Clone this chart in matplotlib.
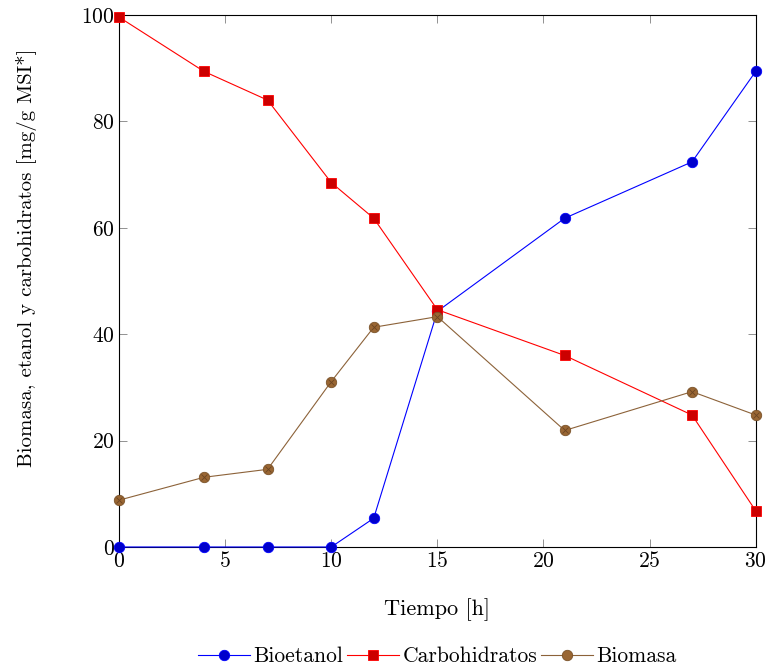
import numpy as np
import matplotlib
matplotlib.use("Agg")
from matplotlib import pyplot as plt

plt.rcParams['font.family'] = ['cmr10', 'DejaVu Serif']
plt.rcParams['axes.formatter.use_mathtext'] = True
plt.rcParams['mathtext.fontset'] = 'cm'

# datos
tiempo = [0, 4, 7, 10, 12, 15, 21, 27, 30]
bioetanol = [0, 0, 0, 0, 5.4, 44.3, 61.8, 72.4, 89.4]
carbohidratos = [99.6, 89.4, 84.0, 68.5, 61.8, 44.6, 36.0, 24.8, 6.8]
biomasa = [8.8, 13.1, 14.6, 31.1, 41.3, 43.3, 21.9, 29.2, 24.8]

fs = 15.5

fig = plt.figure(figsize=(7.68, 6.70), dpi=100)
ax = fig.add_axes([0.155, 0.1836, 0.829, 0.794])

ax.plot(tiempo, bioetanol, color='#0000ff', lw=0.8, marker='o', ms=7.5,
        mfc='#0000cc', mec='#0000ff', mew=0.6, clip_on=False, zorder=3,
        label='Bioetanol')
ax.plot(tiempo, carbohidratos, color='#ff0000', lw=0.8, marker='s', ms=7.5,
        mfc='#cc0000', mec='#ff0000', mew=0.6, clip_on=False, zorder=3,
        label='Carbohidratos')
ax.plot(tiempo, biomasa, color='#8c6239', lw=0.8, marker='o', ms=7.5,
        mfc='#996633', mec='#7a5229', mew=0.6, clip_on=False, zorder=3,
        label='Biomasa')
# la cruz de los marcadores de biomasa
ax.plot(tiempo, biomasa, ls='none', marker='x', ms=4.5, mec='#6b4523',
        mew=0.6, clip_on=False, zorder=4)

ax.set_xlim(0, 30)
ax.set_ylim(0, 100)
ax.set_xticks([0, 5, 10, 15, 20, 25, 30])
ax.set_yticks([0, 20, 40, 60, 80, 100])
ax.tick_params(direction='in', length=6, width=0.6, color='#808080',
               top=True, right=True, labelsize=fs, pad=3)
for s in ax.spines.values():
    s.set_linewidth(0.8)

ax.set_xlabel('Tiempo [h]', fontsize=16)
ax.set_ylabel('Biomasa, etanol y carbohidratos [mg/g MSI*]', fontsize=15)
ax.xaxis.set_label_coords(0.5, -0.096)
ax.yaxis.set_label_coords(-0.129, 0.543)

leg = ax.legend(loc='center', bbox_to_anchor=(0.5, -0.206), ncol=3,
                frameon=False, fontsize=fs, handlelength=2.4, handletextpad=0.15,
                columnspacing=0.2, borderpad=0)

plt.savefig('out.png', dpi=100)
